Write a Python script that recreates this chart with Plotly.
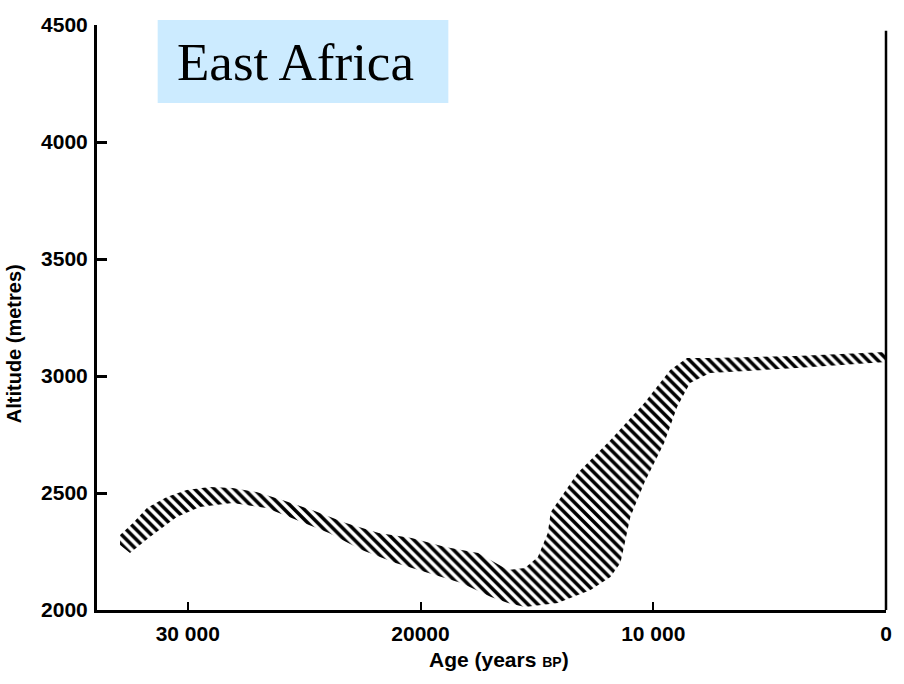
import plotly.graph_objects as go

# Upper edge of the altitude band (age in years BP, altitude in metres)
upper_age = [32910, 32354, 31756, 30901, 30046, 29063, 28080, 27054, 25943, 24661,
             23208, 21797, 20387, 18934, 17523, 16241, 15515, 14959, 14532, 14403,
             13249, 11839, 10386, 9275, 8548, 7565, 3847, 0]
upper_alt = [2320, 2372, 2436, 2483, 2513, 2526, 2521, 2504, 2470, 2427,
             2372, 2329, 2308, 2269, 2244, 2171, 2180, 2227, 2329, 2419,
             2586, 2727, 2885, 3026, 3077, 3077, 3086, 3103]

# Lower edge of the altitude band
lower_age = [32910, 32482, 31628, 30474, 29491, 28080, 26627, 25644, 23934, 22524,
             21071, 19660, 18250, 16968, 16241, 15515, 14104, 12694, 11839, 11412,
             11241, 10985, 10386, 9531, 8975, 8420, 7565, 3847, 0]
lower_alt = [2278, 2244, 2312, 2397, 2440, 2457, 2436, 2397, 2329, 2256,
             2201, 2158, 2115, 2056, 2030, 2013, 2030, 2085, 2141, 2201,
             2278, 2397, 2543, 2714, 2868, 2970, 3013, 3034, 3060]

x_tickvals = [30000, 20000, 10000, 0]
x_ticktext = ["30 000", "20000", "10 000", "0"]
y_tickvals = [2000, 2500, 3000, 3500, 4000, 4500]

poly_x = upper_age + lower_age[::-1]
poly_y = upper_alt + lower_alt[::-1]

fig = go.Figure()
fig.add_trace(go.Scatter(
    x=poly_x, y=poly_y, mode="lines", fill="toself",
    line=dict(width=0, color="black"),
    fillcolor="rgba(255,255,255,0)",
    fillpattern=dict(shape="\\", fgcolor="black", fgopacity=1, bgcolor="rgba(255,255,255,0)",
                     size=7, solidity=0.5, fillmode="overlay"),
    hoverinfo="skip", showlegend=False,
))

tickfont = dict(family="Liberation Sans, Arial, sans-serif", size=21, color="black", weight="bold")

fig.update_layout(
    width=904, height=684,
    margin=dict(l=97, r=14, t=25, b=74),
    paper_bgcolor="white", plot_bgcolor="white",
    showlegend=False,
    xaxis=dict(range=[33900, 0], tickvals=x_tickvals, ticktext=x_ticktext,
               ticks="inside", ticklen=8, tickwidth=2, tickcolor="black",
               showline=True, linecolor="black", linewidth=3,
               showgrid=False, zeroline=False, tickfont=tickfont, ticklabelstandoff=3),
    yaxis=dict(range=[2000, 4500], tickvals=y_tickvals,
               ticks="inside", ticklen=10, tickwidth=3, tickcolor="black",
               showline=True, linecolor="black", linewidth=3,
               showgrid=False, zeroline=False, tickfont=tickfont, ticklabelstandoff=2),
    shapes=[
        dict(type="line", xref="paper", yref="paper", x0=1, x1=1, y0=0, y1=0.99,
             line=dict(color="black", width=2.5)),
        dict(type="rect", xref="paper", yref="paper", x0=0.0769, x1=0.4453,
             y0=0.8667, y1=1.0085, fillcolor="#CCEBFF", line=dict(width=0), layer="above"),
    ],
    annotations=[
        dict(text="East Africa", xref="paper", yref="paper", x=0.251, y=0.937,
             showarrow=False, xanchor="center", yanchor="middle",
             font=dict(family="Liberation Serif, Times New Roman, serif", size=53, color="black")),
        dict(text="Age (years <span style='font-size:14px'>BP</span>)", xref="paper", yref="paper",
             x=0.509, y=-0.085, showarrow=False, xanchor="center", yanchor="middle",
             font=dict(family="Liberation Sans, Arial, sans-serif", size=21, color="black", weight="bold")),
        dict(text="Altitude (metres)", xref="paper", yref="paper",
             x=-0.106, y=0.455, showarrow=False, xanchor="center", yanchor="middle", textangle=-90,
             font=dict(family="Liberation Sans, Arial, sans-serif", size=20, color="black", weight="bold")),
    ],
)

fig.write_html("out.html")
